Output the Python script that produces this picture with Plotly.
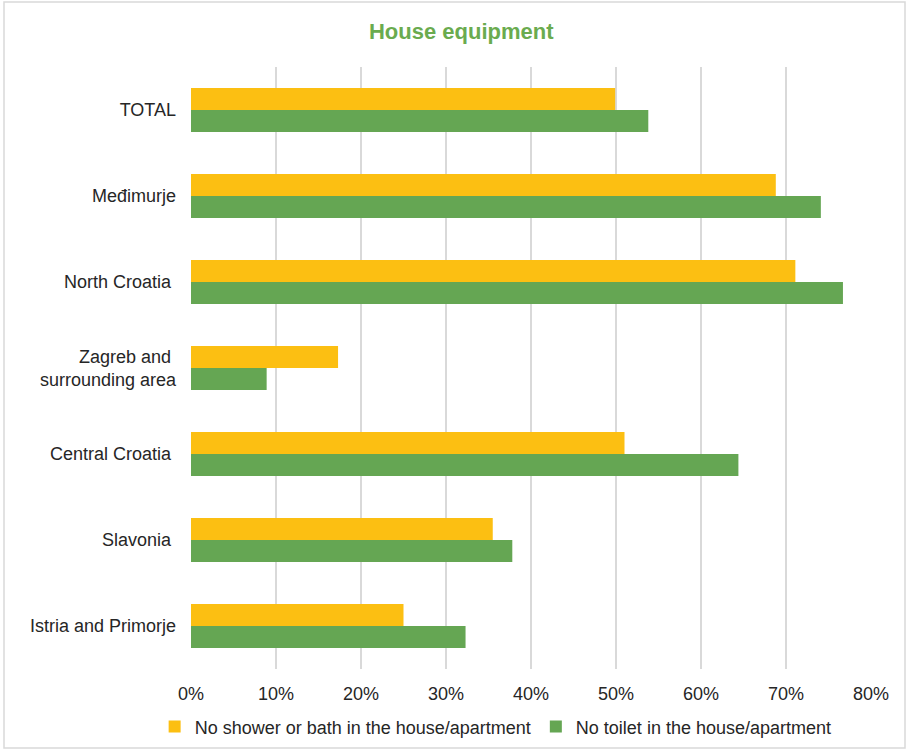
import plotly.graph_objects as go

categories = ["TOTAL", "Međimurje", "North Croatia ", "Zagreb and <br>surrounding area",
              "Central Croatia ", "Slavonia ", "Istria and Primorje"]
no_shower = [49.9, 68.8, 71.1, 17.3, 51.0, 35.5, 25.0]
no_toilet = [53.8, 74.1, 76.7, 8.9, 64.4, 37.8, 32.3]
tick_vals = [0, 10, 20, 30, 40, 50, 60, 70, 80]
tick_text = ["0%", "10%", "20%", "30%", "40%", "50%", "60%", "70%", "80%"]

YELLOW = "#FCBF12"
GREEN = "#65A653"
FONT = "Liberation Sans, Arial, sans-serif"

fig = go.Figure()
fig.add_trace(go.Bar(y=categories, x=no_shower, orientation="h",
                     name="No shower or bath in the house/apartment",
                     marker=dict(color=YELLOW, line=dict(width=0))))
fig.add_trace(go.Bar(y=categories, x=no_toilet, orientation="h",
                     name="No toilet in the house/apartment",
                     marker=dict(color=GREEN, line=dict(width=0))))

fig.update_layout(
    width=908, height=750, autosize=False,
    margin=dict(l=191, r=37, t=67, b=81, autoexpand=False),
    paper_bgcolor="white", plot_bgcolor="white",
    font=dict(family=FONT, size=18, color="#262626"),
    title=dict(text="<b>House equipment</b>", x=0.508, xref="container", xanchor="center",
               y=1 - 31 / 750, yref="container", yanchor="middle",
               font=dict(family=FONT, size=22, color="#6AAB4F")),
    barmode="group", bargap=0.49, bargroupgap=0,
    xaxis=dict(range=[0, 80], tickvals=tick_vals, ticktext=tick_text,
               showgrid=True, gridcolor="#D9D9D9", gridwidth=1.5,
               zeroline=False, showline=False, ticks="", ticklabelstandoff=12,
               tickfont=dict(size=18, color="#262626")),
    yaxis=dict(autorange="reversed", showgrid=False, showline=False, ticks="",
               ticklabelstandoff=14, tickfont=dict(size=18, color="#262626")),
    legend=dict(orientation="h", x=0.448, xanchor="center", y=-0.096, yanchor="middle",
                font=dict(size=18, color="#262626"), itemwidth=30, traceorder="normal"),
    showlegend=True,
)

fig.add_shape(type="rect", xref="paper", yref="paper",
              x0=(4 - 191) / 680, x1=(905 - 191) / 680,
              y0=(669 - 748) / 602, y1=(669 - 2) / 602,
              line=dict(color="#D9D9D9", width=1.5), fillcolor="rgba(0,0,0,0)", layer="below")

fig.write_html("out.html",
               config={"responsive": False, "displayModeBar": False},
               post_script="document.body.style.margin='0';document.body.style.overflow='hidden';")
